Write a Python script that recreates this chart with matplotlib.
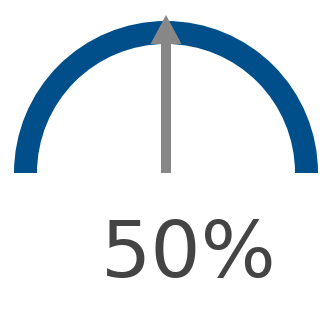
import numpy as np
from matplotlib import pyplot as plt
from matplotlib.patches import Wedge, FancyArrow

value = 50          # percent shown by the gauge
vmin, vmax = 0, 100
label = '50%'

arc_color = '#004f8a'
needle_color = '#878787'
text_color = '#444444'

W, H = 325, 309
fig = plt.figure(figsize=(W / 100, H / 100), dpi=100)
ax = fig.add_axes([0, 0, 1, 1])
ax.set_xlim(0, W)
ax.set_ylim(0, H)
ax.axis('off')

cx, cy = 166, 136
r_out, thick = 152, 23

ax.add_patch(Wedge((cx, cy), r_out, 0, 180, width=thick, color=arc_color, lw=0))

# needle angle from value
frac = (value - vmin) / (vmax - vmin)
ang = np.radians(180 - 180 * frac)
length = 158
ax.add_patch(FancyArrow(cx, cy, length * np.cos(ang), length * np.sin(ang),
                        width=10, head_width=31, head_length=29,
                        length_includes_head=True, color=needle_color, lw=0))

ax.text(189, 32, label, ha='center', va='baseline', fontsize=57,
        color=text_color, family='DejaVu Sans')

fig.savefig('out.png', dpi=100)
